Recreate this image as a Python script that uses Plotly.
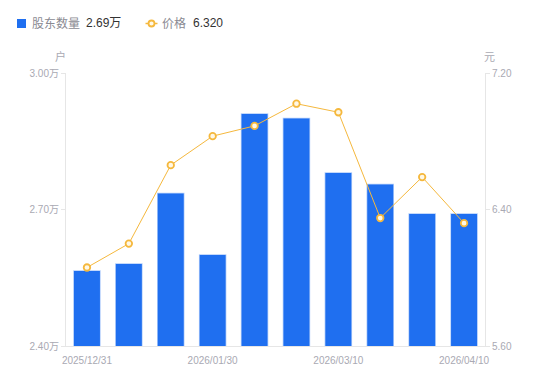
import plotly.graph_objects as go

dates = ["2025/12/31", "2026/01/10", "2026/01/20", "2026/01/30", "2026/02/10",
         "2026/02/28", "2026/03/10", "2026/03/20", "2026/03/31", "2026/04/10"]
holders = [2.565, 2.58, 2.735, 2.60, 2.91, 2.90, 2.78, 2.755, 2.69, 2.69]  # 万户
price = [6.06, 6.20, 6.66, 6.83, 6.89, 7.02, 6.97, 6.35, 6.59, 6.32]
x_ticks = ["2025/12/31", "2026/01/30", "2026/03/10", "2026/04/10"]
left_ticks = [2.40, 2.70, 3.00]
right_ticks = [5.60, 6.40, 7.20]
legend_holder = "2.69万"
legend_price = "6.320"

FONT = "Liberation Sans, Arial, Noto Sans CJK SC, sans-serif"
BLUE = "#1f6ff0"
ORANGE = "#f5b83d"
GREY = "#a9a9b3"

W, H = 550, 381
L, R, T, B = 66, 65, 73, 35
PW, PH = W - L - R, H - T - B


def fx(px):
    return (px - L) / PW


def fy(py):
    return (H - B - py) / PH


fig = go.Figure()
fig.add_trace(go.Bar(
    x=dates, y=holders, yaxis="y", name="股东数量",
    marker=dict(color=BLUE, line=dict(color="rgba(31,111,240,0.35)", width=1.5)),
    width=0.62,
))
fig.add_trace(go.Scatter(
    x=dates, y=price, yaxis="y2", mode="lines+markers", name="价格",
    line=dict(color=ORANGE, width=1),
    marker=dict(symbol="circle", size=6.5, color="#fff8e6",
                line=dict(color=ORANGE, width=1.8)),
))

ly = 23.5
shapes = [
    dict(type="rect", xref="paper", yref="paper",
         x0=fx(17), x1=fx(26), y0=fy(ly - 4.5), y1=fy(ly + 4.5),
         fillcolor=BLUE, line=dict(width=0)),
    dict(type="line", xref="paper", yref="paper",
         x0=fx(145.5), x1=fx(157.5), y0=fy(ly), y1=fy(ly),
         line=dict(color=ORANGE, width=1.5)),
    dict(type="circle", xref="paper", yref="paper",
         x0=fx(148.5), x1=fx(154.5), y0=fy(ly - 3), y1=fy(ly + 3),
         fillcolor="#fff8e6", line=dict(color=ORANGE, width=1.8)),
]


def ann(text, px, py, color, size, anchor="left"):
    return dict(text=text, xref="paper", yref="paper", x=fx(px), y=fy(py),
                xanchor=anchor, yanchor="middle", showarrow=False,
                font=dict(size=size, color=color, family=FONT))


annotations = [
    ann("股东数量", 30, ly, "#8a8a92", 12),
    ann(legend_holder, 84, ly, "#333333", 12),
    ann("价格", 160, ly, "#8a8a92", 12),
    ann(legend_price, 191, ly, "#333333", 12),
    ann("户", 60, 56, GREY, 11, "center"),
    ann("元", 490, 57, GREY, 11, "center"),
]

fig.update_layout(
    width=W, height=H,
    margin=dict(l=L, r=R, t=T, b=B),
    paper_bgcolor="white", plot_bgcolor="white",
    font=dict(family=FONT, size=10, color=GREY),
    showlegend=False,
    shapes=shapes,
    annotations=annotations,
    xaxis=dict(type="category", range=[-0.5, 9.5], tickmode="array",
               tickvals=x_ticks, ticktext=x_ticks, automargin=False,
               showgrid=False, showline=True, linecolor="#e6e6e6", linewidth=1,
               ticks="", ticklabelstandoff=5, tickfont=dict(size=10, color=GREY),
               zeroline=False),
    yaxis=dict(range=[2.40, 3.00], tickmode="array", tickvals=left_ticks,
               ticktext=[f"{v:.2f}万" for v in left_ticks], automargin=False,
               showgrid=False, showline=True, linecolor="#e6e6e6", linewidth=1,
               ticks="outside", ticklen=4, tickcolor="#e6e6e6",
               tickfont=dict(size=10, color=GREY), zeroline=False),
    yaxis2=dict(range=[5.60, 7.20], overlaying="y", side="right",
                tickmode="array", tickvals=right_ticks, automargin=False,
                ticktext=[f"{v:.2f}" for v in right_ticks],
                showgrid=False, showline=True, linecolor="#e6e6e6", linewidth=1,
                ticks="outside", ticklen=4, tickcolor="#e6e6e6",
                tickfont=dict(size=10, color=GREY), zeroline=False),
)

fig.write_html("out.html")
